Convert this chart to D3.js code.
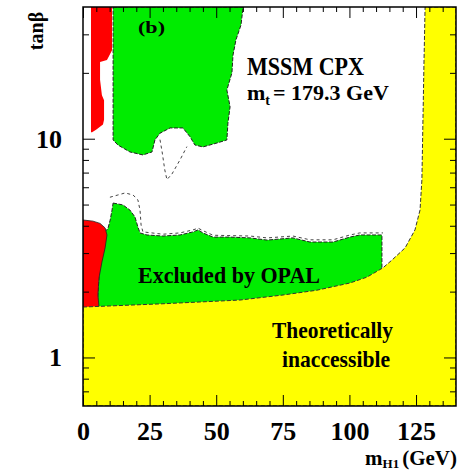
<!DOCTYPE html>
<html>
<head>
<meta charset="utf-8">
<script src="https://cdn.jsdelivr.net/npm/d3@7"></script>
<style>
  body { margin: 0; background: #fff; }
  text { font-family: "Liberation Serif", "Times New Roman", serif; font-weight: bold; fill: #000; }
</style>
</head>
<body>
<svg id="chart" width="470" height="472"></svg>
<script>
// region outlines, points are [m_H1 in GeV, tanBeta]
const theoryEdge = [
  [0, 1.7], [30, 1.76], [58.9, 1.83], [75.1, 1.93], [87.8, 2.03], [100.2, 2.19], [106.6, 2.33],
  [112.6, 2.57], [116, 2.79], [120.9, 3.17], [124.6, 3.83], [126.5, 4.72], [127.2, 6.48],
  [127.6, 12.2], [128.0, 22.9], [128.4, 40], [140, 40], [140, 0.6], [0, 0.6]
];

const greenUpper = [
  [11.3, 40], [60.1, 40], [59.3, 33.1], [57.4, 28.3], [56.3, 24.1], [55.9, 20.0], [54.0, 16.7],
  [55.2, 14.0], [54.4, 11.8], [54.0, 9.87], [50.3, 9.56], [45.0, 9.17], [42.0, 9.36], [40.2, 10.2],
  [37.5, 11.2], [32.7, 11.2], [28.9, 10.6], [27.0, 9.87], [25.9, 8.7], [22.5, 8.43], [17.6, 8.7],
  [13.1, 9.36], [11.3, 9.87]
];

const greenLower = [
  [11.3, 5.08], [15.0, 4.98], [17.6, 4.72], [19.5, 4.39], [20.6, 3.95], [21.4, 3.71], [24.0, 3.63],
  [30.0, 3.59], [36.4, 3.63], [41.3, 3.75], [43.2, 3.83], [45.0, 3.71], [48.8, 3.55], [55.2, 3.55],
  [62.7, 3.52], [69.1, 3.44], [78.8, 3.52], [85.2, 3.37], [93.8, 3.37], [100.2, 3.55], [103.9, 3.63],
  [112.2, 3.63], [112.2, 1.5], [5, 1.5], [7, 3.6], [9.4, 3.9], [10.2, 4.25], [10.9, 4.72]
];

const redUpper = [
  [3.0, 40], [10.9, 40], [10.9, 25.4], [9.0, 22.9], [6.4, 22.4], [6.4, 18.6], [7.1, 15.8],
  [7.9, 15.0], [7.9, 12.2], [7.5, 11.6], [4.9, 11.0], [3.4, 10.7], [3.0, 10.7]
];

const redLower = [
  [0, 4.25], [3.75, 4.2], [6.4, 4.1], [8.3, 3.91], [9.0, 3.63], [8.3, 3.17], [7.1, 2.73],
  [6.0, 2.31], [5.6, 1.93], [6.0, 1.7], [6.0, 1.5], [0, 1.5]
];

const expectedVee = [
  [28.9, 9.9], [29.7, 8.7], [30.7, 7.2], [31.5, 6.5], [33.4, 6.9], [36.4, 8.0], [39.0, 9.2]
];

const expectedLow = [
  [10.1, 5.4], [13.1, 5.53], [15.8, 5.65], [18.8, 5.53], [20.6, 5.25], [21.4, 4.72], [21.8, 4.03],
  [22.5, 3.75], [30, 3.66], [36.4, 3.71], [41.3, 3.83], [43.2, 3.9], [45, 3.8], [48.8, 3.62],
  [62.7, 3.59], [69.1, 3.52], [78.8, 3.59], [85.2, 3.45], [93.8, 3.45], [100.2, 3.63],
  [103.9, 3.71], [112.6, 3.71]
];

const xTickLabels = [0, 25, 50, 75, 100, 125];
const xMinorTicks = [5, 10, 15, 20, 30, 35, 40, 45, 55, 60, 65, 70, 80, 85, 90, 95, 105, 110, 115, 120, 130, 135];
const yTickLabels = [1, 10];
const yMinorTicks = [0.7, 0.8, 0.9, 2, 3, 4, 5, 6, 7, 8, 9, 20, 30];

const frame = { left: 83, right: 456, top: 7, bottom: 406 };

const svg = d3.select("#chart");

const x = d3.scaleLinear().domain([0, 140]).range([frame.left, frame.right]);
const y = d3.scaleLog().domain([0.6, 40]).range([frame.bottom, frame.top]);

svg.append("defs").append("clipPath").attr("id", "plot")
  .append("rect")
  .attr("x", frame.left).attr("y", frame.top)
  .attr("width", frame.right - frame.left).attr("height", frame.bottom - frame.top);

const line = d3.line().x((d) => x(d[0])).y((d) => y(d[1]));
const shape = (pts) => line(pts) + "Z";

const plot = svg.append("g").attr("clip-path", "url(#plot)");

const green = "#00ec00";

plot.append("path").attr("d", shape(greenUpper))
  .attr("fill", green).attr("stroke", "#222").attr("stroke-width", 1).attr("stroke-dasharray", "4,1.5");

plot.append("path").attr("d", shape(greenLower))
  .attr("fill", green).attr("stroke", "#222").attr("stroke-width", 1).attr("stroke-dasharray", "4,1.5");

plot.append("path").attr("d", shape(redUpper)).attr("fill", "#ff0000");

plot.append("path").attr("d", shape(redLower))
  .attr("fill", "#ff0000").attr("stroke", "#222").attr("stroke-width", 0.8);

plot.append("path").attr("d", shape(theoryEdge))
  .attr("fill", "#ffff00").attr("stroke", "#333").attr("stroke-width", 1).attr("stroke-dasharray", "4,2");

// expected limit, dashed
[expectedVee, expectedLow].forEach((pts) => {
  plot.append("path").attr("d", line(pts))
    .attr("fill", "none").attr("stroke", "#444").attr("stroke-width", 1).attr("stroke-dasharray", "3,3");
});

// frame
svg.append("rect")
  .attr("x", frame.left).attr("y", frame.top)
  .attr("width", frame.right - frame.left).attr("height", frame.bottom - frame.top)
  .attr("fill", "none").attr("stroke", "#000").attr("stroke-width", 1.5);

// inward ticks on all four sides
const tickSets = [
  { axis: d3.axisBottom(x), at: `translate(0,${frame.bottom})`, major: xTickLabels, minor: xMinorTicks, big: -11, small: -5 },
  { axis: d3.axisTop(x), at: `translate(0,${frame.top})`, major: xTickLabels, minor: xMinorTicks, big: -11, small: -5 },
  { axis: d3.axisLeft(y), at: `translate(${frame.left},0)`, major: yTickLabels, minor: yMinorTicks, big: -12, small: -6 },
  { axis: d3.axisRight(y), at: `translate(${frame.right},0)`, major: yTickLabels, minor: yMinorTicks, big: -12, small: -6 }
];

tickSets.forEach((s) => {
  [[s.major, s.big], [s.minor, s.small]].forEach(([vals, size]) => {
    svg.append("g").attr("transform", s.at)
      .call(s.axis.tickValues(vals).tickSize(size).tickFormat(""))
      .call((g) => g.select(".domain").remove())
      .call((g) => g.selectAll(".tick line").attr("stroke", "#000").attr("stroke-width", 1));
  });
});

// tick labels
svg.append("g").attr("transform", `translate(0,${frame.bottom})`)
  .call(d3.axisBottom(x).tickValues(xTickLabels).tickSize(0).tickPadding(16).tickFormat(d3.format("d")))
  .call((g) => g.select(".domain").remove())
  .call((g) => g.selectAll(".tick text").style("font-size", "26px"))
  .attr("font-family", null).attr("font-size", null);

svg.append("g").attr("transform", `translate(${frame.left},0)`)
  .call(d3.axisLeft(y).tickValues(yTickLabels).tickSize(0).tickPadding(21).tickFormat(d3.format("d")))
  .call((g) => g.select(".domain").remove())
  .call((g) => g.selectAll(".tick text").style("font-size", "26px"))
  .attr("font-family", null).attr("font-size", null);

// labels
const label = (txt, px, py, size, len) => {
  const t = svg.append("text").attr("x", px).attr("y", py).style("font-size", size + "px").text(txt);
  if (len) t.attr("textLength", len).attr("lengthAdjust", "spacingAndGlyphs");
  return t;
};

svg.append("text")
  .attr("transform", "translate(43,31) rotate(-90)")
  .attr("text-anchor", "middle")
  .style("font-size", "20px")
  .text("tanβ");

// x axis title: m_H1 (GeV)
const xTitle = svg.append("text")
  .attr("x", 457).attr("y", 465)
  .attr("text-anchor", "end")
  .style("font-size", "21px");
xTitle.append("tspan").text("m");
xTitle.append("tspan").attr("dy", 3).style("font-size", "13px").text("H1");
xTitle.append("tspan").attr("dy", -3).attr("dx", 3).text("(GeV)");

label("(b)", 138, 33, 17, 27);
label("MSSM CPX", 247, 75, 25, 117);

const topLabel = svg.append("text")
  .attr("x", 247).attr("y", 100)
  .style("font-size", "22px");
topLabel.append("tspan").text("m");
topLabel.append("tspan").attr("dy", 5).style("font-size", "14px").text("t");
topLabel.append("tspan").attr("dy", -5).attr("dx", 3).text("= 179.3 GeV");

label("Excluded by OPAL", 138, 283, 24, 182);
label("Theoretically", 272, 338, 24, 121);
label("inaccessible", 282, 367, 24, 108);
</script>
</body>
</html>
